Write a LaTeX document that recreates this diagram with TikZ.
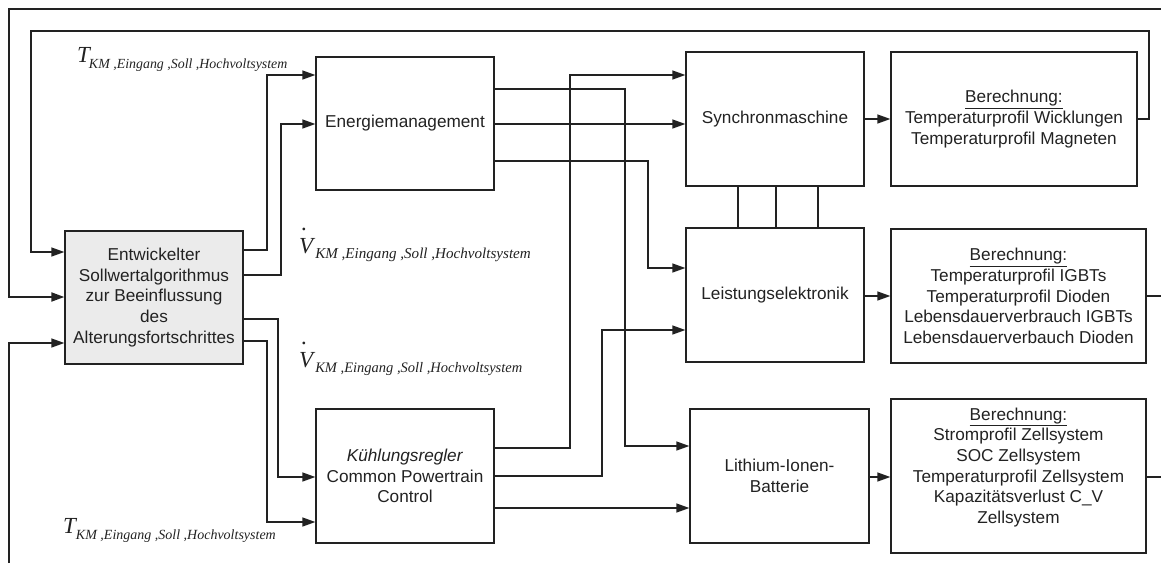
\documentclass[tikz,border=0pt]{standalone}
\usepackage{fontspec}
\setmainfont{Liberation Sans}
\newfontfamily\lblfont{Liberation Serif}
\usetikzlibrary{arrows.meta,calc}
\definecolor{ink}{HTML}{222222}
\definecolor{boxfill}{HTML}{EBEBEB}
\newcommand\bodyfont{\fontsize{17.2}{20.7}\selectfont}
% symbol with a subscript: #1 main letter, #2 kern before index, #3 index size, #4 drop of index
\newcommand\idx[4]{{\lblfont\itshape\fontsize{23}{23}\selectfont #1\kern#2\raisebox{-#4}{\fontsize{#3}{#3}\selectfont KM ,Eingang ,Soll ,Hochvoltsystem}}}
\newcommand\vdotV{\makebox[0pt][l]{\kern2.5pt\raisebox{23pt}{.}}V}
\begin{document}
\begin{tikzpicture}[x=1pt,y=-1pt,
  block/.style={draw=ink,line width=1.3pt,inner sep=0pt,align=center,text=ink,font=\bodyfont},
  wire/.style={draw=ink,line width=1.3pt},
  arr/.style={wire,-{Triangle[length=13pt,width=9pt]}},
  frame/.style={draw=ink,line width=1.9pt},
  lbl/.style={anchor=base west,inner sep=0pt,text=ink}]
\useasboundingbox (0,0) rectangle (1161,563);

% blocks
\node[block,fill=boxfill,minimum width=178pt,minimum height=133pt] (ent) at (154,297.5)
  {Entwickelter\\Sollwertalgorithmus\\zur Beeinflussung\\des\\Alterungsfortschrittes};
\node[block,minimum width=178pt,minimum height=133pt] (em) at (405,123.5) {Energiemanagement};
\node[block,minimum width=178pt,minimum height=134pt] (kr) at (405,476)
  {\textit{Kühlungsregler}\\Common Powertrain\\Control};
\node[block,minimum width=178pt,minimum height=134pt] (sm) at (775,119) {Synchronmaschine};
\node[block,minimum width=178pt,minimum height=134pt] (le) at (775,295) {Leistungselektronik};
\node[block,minimum width=179pt,minimum height=134pt] (li) at (779.5,476) {Lithium-Ionen-\\Batterie};
\node[block,minimum width=246pt,minimum height=134pt] (b1) at (1014,119)
  {\underline{Berechnung:}\\Temperaturprofil Wicklungen\\Temperaturprofil Magneten};
\node[block,minimum width=255pt,minimum height=134pt] (b2) at (1018.5,296)
  {\underline{Berechnung:}\\Temperaturprofil IGBTs\\Temperaturprofil Dioden\\Lebensdauerverbrauch IGBTs\\Lebensdauerverbauch Dioden};
\node[block,minimum width=255pt,minimum height=154pt] (b3) at (1018.5,476)
  {\underline{Berechnung:}\\Stromprofil Zellsystem\\SOC Zellsystem\\Temperaturprofil Zellsystem\\Kapazitätsverlust C\_V\\Zellsystem\\\mbox{}};

% signal labels
\node[lbl] (tTop) at (77,62) {\idx{T}{-1pt}{13.9}{6pt}};
\node[lbl] (vTop) at (299,253) {\idx{\vdotV}{2pt}{15.1}{5pt}};
\node[lbl] (vBot) at (299,367) {\idx{\vdotV}{2pt}{14.5}{5pt}};
\node[lbl] (tBot) at (63,533) {\idx{T}{0pt}{14}{6pt}};

% free ends at the border
\coordinate (topR) at (1161,9);
\coordinate (botL) at (9,563);
\coordinate (b2out) at (1161,296);
\coordinate (b3out) at (1161,477);

% set-point algorithm outputs
\draw[arr] (ent.east|-0,250) -- (267,250) |- (em.west|-0,75);
\draw[arr] (ent.east|-0,275) -- (281,275) |- (em.west|-0,124);
\draw[arr] (ent.east|-0,319) -- (278,319) |- (kr.west|-0,477);
\draw[arr] (ent.east|-0,341) -- (267,341) |- (kr.west|-0,522);

% energy management outputs
\draw[arr] (em.east|-0,124) -- (sm.west|-0,124);
\draw[arr] (em.east|-0,161) -- (648,161) |- (le.west|-0,268);
\draw[arr] (em.east|-0,89) -- (625,89) |- (li.west|-0,446);

% cooling controller outputs
\draw[arr] (kr.east|-0,448) -- (570,448) |- (sm.west|-0,75);
\draw[arr] (kr.east|-0,476) -- (602,476) |- (le.west|-0,330);
\draw[arr] (kr.east|-0,508) -- (li.west|-0,508);

% components to calculations
\draw[arr] (sm.east) -- (b1.west);
\draw[arr] (le.east|-0,296) -- (b2.west|-0,296);
\draw[arr] (li.east|-0,477) -- (b3.west|-0,477);
\draw[wire] (b2.east|-0,296) -- (b2out);
\draw[wire] (b3.east|-0,477) -- (b3out);

% three-phase link machine / power electronics
\foreach \dx in {-37,1,43}
  \draw[wire] ($(sm.south)+(\dx,0)$) -- ($(le.north)+(\dx,0)$);

% feedback loops
\draw[arr] (b1.east) -- (1149,119) -- (1149,31) -- (31,31) |- (ent.west|-0,252);
\draw[frame,-{Triangle[length=13pt,width=9pt]}] (topR) -- (9,9) |- (ent.west|-0,297);
\draw[arr] (botL) |- (ent.west|-0,343);
\end{tikzpicture}
\end{document}
